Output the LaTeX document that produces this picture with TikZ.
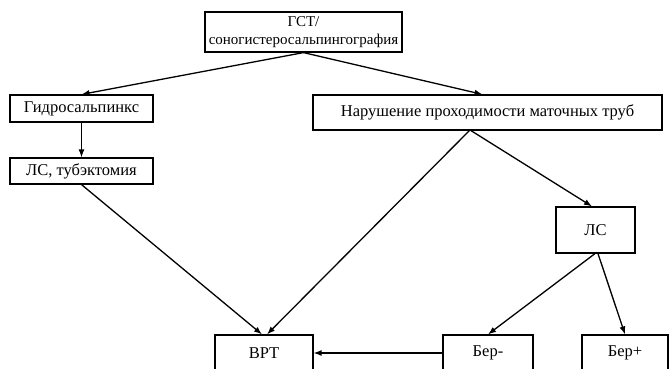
\documentclass[tikz,border=0pt]{standalone}
\usepackage{fontspec}
\setmainfont{Liberation Serif}
\usetikzlibrary{arrows.meta,positioning}

\tikzset{
  box/.style={draw, line width=1.2pt, inner sep=0pt, align=center,
              font=\fontsize{16.5}{18}\selectfont}
}

\begin{document}
\begin{tikzpicture}[x=1pt, y=-1pt, >={Latex[length=8pt,width=6pt]}, line width=1.3pt]
          \useasboundingbox (0,0) rectangle (669,369);

          \node[box, minimum width=197pt, minimum height=40pt,
                font=\fontsize{15}{18}\selectfont] (gst) at (303.5,32) {ГСТ/\\соногистеросальпингография};
          \node[box, minimum width=143pt, minimum height=27pt] (gidro) at (81.5,108.5) {Гидросальпинкс};
          \node[box, minimum width=143pt, minimum height=26pt] (lstub) at (81.5,171)  {ЛС, тубэктомия};
          \node[box, minimum width=349pt, minimum height=35pt] (narush) at (487.5,112.5) {Нарушение проходимости маточных труб};
          \node[box, minimum width=79pt,  minimum height=46pt] (ls)    at (595.5,230) {ЛС};
          \node[box, minimum width=98pt,  minimum height=36pt] (vrt)   at (264,353)   {ВРТ};
          \node[box, minimum width=90pt,  minimum height=36pt] (berm)  at (488,353)   {Бер-};
          \node[box, minimum width=86pt,  minimum height=36pt] (berp)  at (625,353)   {Бер+};

          \coordinate (nb) at (470,130);

          \path[->]
                    (gst.south) edge (gidro.north)
                                edge ([xshift=-5pt]narush.north)
                    (gidro)     edge (lstub)
                    (lstub.south) edge ([xshift=-2pt]vrt.north)
                    (nb)        edge ([xshift=3pt]vrt.north)
                                edge ([xshift=-3.5pt]ls.north)
                    ([xshift=-0.5pt]ls.south) edge (berm.north)
                    ([xshift=2.5pt]ls.south)  edge (berp.north)
                    (berm)      edge (vrt)
            ;
\end{tikzpicture}
\end{document}
